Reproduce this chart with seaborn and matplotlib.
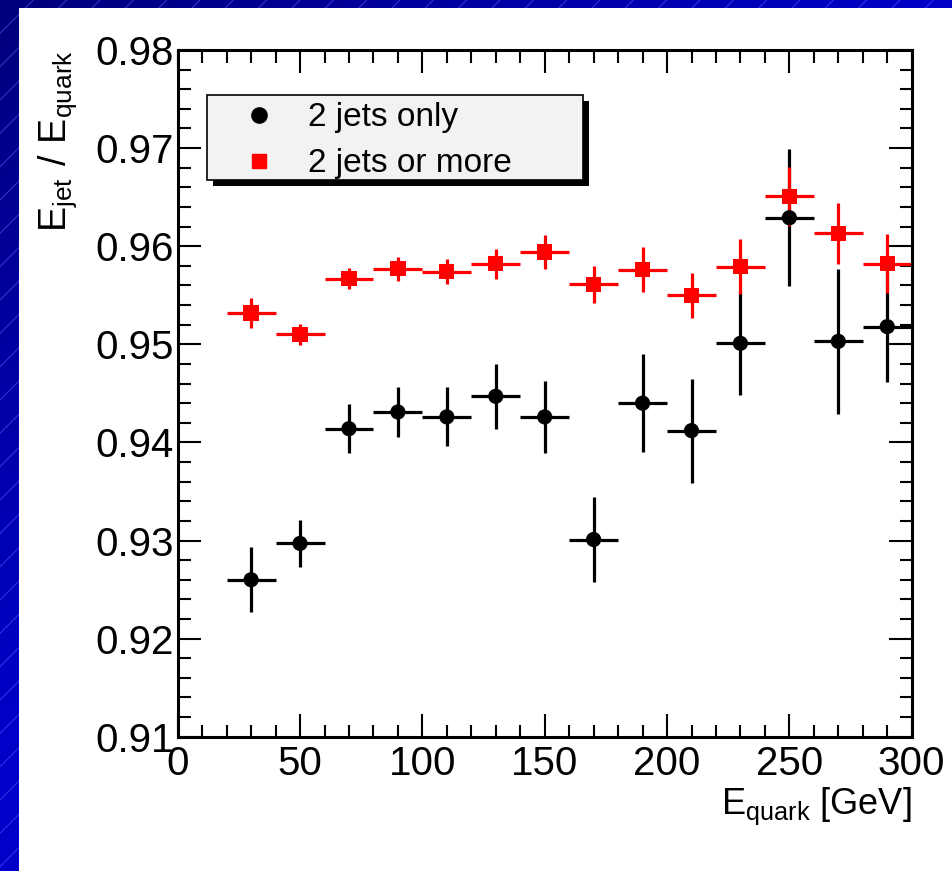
import numpy as np
import pandas as pd
import matplotlib
matplotlib.use("Agg")
import matplotlib.pyplot as plt
import seaborn as sns
from matplotlib.patches import Rectangle
from matplotlib.lines import Line2D
from matplotlib.colors import LinearSegmentedColormap
from matplotlib.ticker import MultipleLocator, FormatStrFormatter

# bin centres (GeV), bins are 20 GeV wide
e_quark = [30, 50, 70, 90, 110, 130, 150, 170, 190, 210, 230, 250, 270, 290]
bin_half = 10

ratio_2jets = [0.9260, 0.9297, 0.9414, 0.9431, 0.9426, 0.9447, 0.9426,
               0.9301, 0.9440, 0.9412, 0.9501, 0.9629, 0.9503, 0.9518]
err_2jets = [0.0033, 0.0024, 0.0025, 0.0025, 0.0030, 0.0033, 0.0037,
             0.0043, 0.0050, 0.0053, 0.0053, 0.0070, 0.0074, 0.0056]

ratio_2more = [0.9532, 0.9510, 0.9567, 0.9577, 0.9574, 0.9582, 0.9594,
               0.9561, 0.9576, 0.9550, 0.9579, 0.9651, 0.9613, 0.9582]
err_2more = [0.0015, 0.0011, 0.0011, 0.0012, 0.0013, 0.0015, 0.0017,
             0.0019, 0.0023, 0.0023, 0.0028, 0.0030, 0.0031, 0.0030]

labels = ["2 jets only", "2 jets or more"]
colors = {"2 jets only": "black", "2 jets or more": "#ff0000"}

df = pd.concat([
    pd.DataFrame({"e_quark": e_quark, "ratio": ratio_2jets, "err": err_2jets, "sample": labels[0]}),
    pd.DataFrame({"e_quark": e_quark, "ratio": ratio_2more, "err": err_2more, "sample": labels[1]}),
])

sns.set_theme(style="ticks")
plt.rcParams["font.family"] = ["Liberation Sans", "DejaVu Sans"]
plt.rcParams["mathtext.fontset"] = "custom"
plt.rcParams["mathtext.rm"] = "Liberation Sans"
plt.rcParams["hatch.linewidth"] = 1.0

W, H = 953, 871
fig = plt.figure(figsize=(W / 100, H / 100), dpi=100)

# slide background: blue gradient with diagonal hatching
bg = fig.add_axes([0, 0, 1, 1], zorder=-10)
xx, yy = np.meshgrid(np.linspace(0, 1, 200), np.linspace(0, 1, 200))
grad = np.clip(xx + yy * 1.2, 0, 1)
cmap = LinearSegmentedColormap.from_list("slide", ["#00007c", "#0000c8"])
bg.imshow(grad, extent=[0, 1, 0, 1], aspect="auto", cmap=cmap, origin="upper")
bg.add_patch(Rectangle((0, 0), 1, 1, transform=bg.transAxes, fill=False,
                       hatch="/", edgecolor="#5a5aff", lw=0, alpha=0.45))
bg.add_patch(Rectangle((19 / W, 0), 1, 1 - 8 / H, transform=bg.transAxes,
                       facecolor="white", lw=0))
bg.set_axis_off()

ax = fig.add_axes([177.7 / W, 1 - 736.7 / H, 734 / W, 686.7 / H])
ax.set_facecolor("white")

for i, lab in enumerate(labels):
    sub = df[df["sample"] == lab]
    ax.errorbar(sub["e_quark"], sub["ratio"], xerr=bin_half, yerr=sub["err"],
                fmt="none", ecolor=colors[lab], elinewidth=2.3, capsize=0,
                zorder=2 + i * 0.1)

sns.scatterplot(data=df, x="e_quark", y="ratio", hue="sample", style="sample",
                palette=colors, markers={labels[0]: "o", labels[1]: "s"},
                s=120, linewidth=0, legend=False, zorder=3, ax=ax)

ax.set_xlim(0, 300)
ax.set_ylim(0.91, 0.98)
ax.xaxis.set_major_locator(MultipleLocator(50))
ax.xaxis.set_minor_locator(MultipleLocator(10))
ax.yaxis.set_major_locator(MultipleLocator(0.01))
ax.yaxis.set_minor_locator(MultipleLocator(0.002))
ax.yaxis.set_major_formatter(FormatStrFormatter("%.2f"))
ax.xaxis.set_major_formatter(FormatStrFormatter("%d"))
ax.tick_params(which="both", direction="in", top=True, right=True,
               color="black", width=1.5, labelsize=29, labelcolor="black")
ax.tick_params(which="major", length=16.5)
ax.tick_params(which="minor", length=9)
ax.tick_params(axis="x", pad=6)
ax.tick_params(axis="y", pad=3)
for sp in ax.spines.values():
    sp.set_linewidth(2.2)
    sp.set_color("black")

ax.set_xlabel(r"$\mathregular{E_{quark}}$ [GeV]", loc="right", fontsize=26, color="black")
ax.xaxis.label.set_va("center")
ax.xaxis.set_label_coords(1.0, -0.101)
ax.set_ylabel(r"$\mathregular{E_{jet}\ /\ E_{quark}}$", loc="top", fontsize=27, color="black")
ax.yaxis.label.set_va("center")
ax.yaxis.set_label_coords(-0.164, 1.0)

# legend box with a hard black shadow
lx0, ly0, lx1, ly1 = 207, 95, 583, 180
ax.add_patch(Rectangle((lx0 / W + 6 / W, 1 - (ly1 + 6) / H), (lx1 - lx0) / W, (ly1 - ly0) / H,
                       transform=fig.transFigure, facecolor="black", lw=0,
                       clip_on=False, zorder=8))
ax.add_patch(Rectangle((lx0 / W, 1 - ly1 / H), (lx1 - lx0) / W, (ly1 - ly0) / H,
                       transform=fig.transFigure, facecolor="#f2f2f2",
                       edgecolor="black", lw=1.2, clip_on=False, zorder=9))
handles = [Line2D([], [], marker="o", color="black", ls="none", markersize=11),
           Line2D([], [], marker="s", color="#ff0000", ls="none", markersize=10)]
leg = ax.legend(handles, labels, loc="upper left",
                bbox_to_anchor=(lx0 / W, 1 - ly0 / H), bbox_transform=fig.transFigure,
                frameon=False, fontsize=24, borderpad=0.22, labelspacing=0.45,
                handlelength=2.7, handletextpad=0.1, borderaxespad=0)
leg.set_zorder(10)
for t in leg.get_texts():
    t.set_color("black")

fig.savefig("out.png", dpi=100)
